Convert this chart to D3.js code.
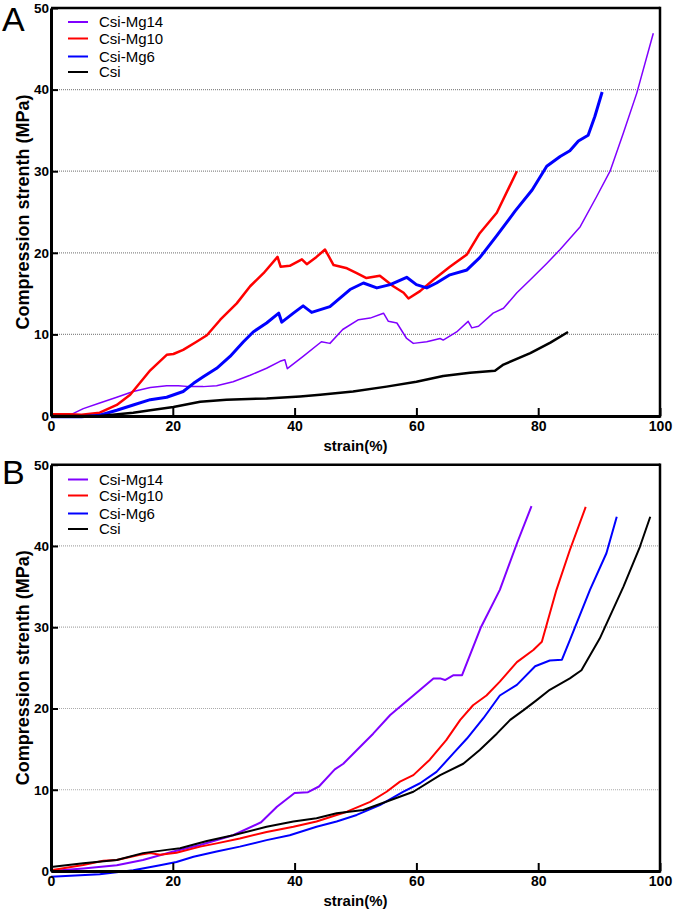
<!DOCTYPE html>
<html><head><meta charset="utf-8">
<script src="https://cdn.jsdelivr.net/npm/d3@7"></script>
<style>body{margin:0;background:#fff}svg{display:block}</style>
</head><body>
<svg id="c" width="675" height="916"></svg>
<script>
const seriesNames = ["Csi-Mg14","Csi-Mg10","Csi-Mg6","Csi"];
const seriesColors = ["#8000ff","#ff0000","#0000ff","#000000"];
const xTicks = [0,20,40,60,80,100];
const yTicks = [0,10,20,30,40,50];
const gridTicks = [10,20,30,40];

// Panel A
const aMg14 = [[0,0],[3.1,0.1],[5.3,0.9],[8,1.6],[10.8,2.3],[13.5,3.0],[16.3,3.5],[19,3.7],[20.9,3.7],[22.8,3.6],[25,3.6],[27.2,3.7],[29.9,4.2],[32.7,5.0],[35.4,5.85],[37.6,6.7],[38.4,6.9],[38.8,5.8],[41.4,7.3],[44.4,9.1],[45.8,8.9],[47.9,10.6],[50.5,11.8],[52.4,12.0],[54.6,12.6],[55.4,11.6],[56.8,11.4],[58.4,9.5],[59.5,8.9],[61.7,9.1],[63.9,9.5],[64.4,9.3],[66.6,10.3],[68.5,11.6],[69.1,10.8],[70.2,11.0],[72.6,12.6],[74.3,13.2],[76.5,15.1],[78.7,16.7],[81.4,18.7],[83.6,20.4],[86.9,23.2],[89.6,26.9],[91.8,30.0],[94,34.7],[96.2,39.6],[98.9,46.9]];
const aMg10 = [[0,0.2],[3,0.2],[5,0.15],[8,0.4],[10.8,1.35],[13,2.6],[16.3,5.6],[19,7.5],[20.1,7.6],[21.7,8.1],[23.9,9.1],[25.6,9.9],[27.8,11.8],[30.5,13.8],[32.7,15.9],[34.9,17.5],[37.2,19.5],[37.7,18.3],[39.2,18.4],[41.2,19.2],[42,18.6],[43.6,19.5],[45,20.4],[46.4,18.5],[48.6,18.1],[50.2,17.5],[51.8,16.9],[54,17.2],[56.2,15.9],[57.9,15.1],[58.7,14.4],[60.6,15.3],[62.8,16.7],[65.5,18.3],[68.3,19.8],[70.4,22.4],[73.2,24.9],[76.5,30.0]];
const aMg6 = [[0,-0.1],[5,-0.1],[8,0.1],[10.8,0.7],[13.5,1.35],[16.3,2.0],[19,2.3],[21.7,3.0],[23.4,4.0],[25,4.8],[27.2,5.85],[29.4,7.3],[31.6,9.1],[33.2,10.3],[35.4,11.4],[37.4,12.6],[37.9,11.5],[39.8,12.6],[41.4,13.5],[42.8,12.7],[45.8,13.4],[49.1,15.5],[51.3,16.3],[53.5,15.7],[55.7,16.1],[58.4,17.0],[60,16.1],[61.7,15.7],[63.3,16.3],[65.5,17.3],[68.3,17.9],[70.4,19.4],[73.2,22.1],[76.2,25.1],[79,27.7],[81.4,30.6],[83.6,31.8],[85.2,32.5],[86.6,33.7],[88.2,34.4],[89.3,36.7],[90.5,39.7]];
const aCsi = [[0,0],[8,0],[13.5,0.4],[16.3,0.7],[20.1,1.1],[24.5,1.75],[28.8,2.0],[35.4,2.15],[40.9,2.4],[44.2,2.6],[49.6,3.0],[55.1,3.6],[60,4.2],[64.4,4.9],[68.8,5.3],[72.9,5.55],[74.3,6.3],[78.7,7.7],[82,9.0],[84.9,10.3]];

// Panel B
const bMg14 = [[0,0],[5.3,0.3],[10.8,0.7],[15.1,1.35],[20.1,2.4],[24.5,3.2],[29.9,4.4],[34.5,6.0],[37.1,7.9],[40,9.6],[42.2,9.7],[44,10.4],[46.6,12.5],[48,13.2],[51.3,15.7],[52.9,16.9],[55.7,19.2],[57.3,20.2],[59.5,21.6],[62.8,23.7],[63.9,23.7],[64.7,23.5],[66.1,24.1],[67.5,24.1],[70.6,30],[73.7,34.6],[76.5,40.3],[78.9,44.9]];
const bMg10 = [[0,0.1],[5.3,0.75],[8.6,1.27],[10.8,1.35],[14.6,2.0],[16.3,2.2],[17.9,2.0],[20.6,2.25],[24.5,3.0],[27.2,3.4],[31,4.0],[35.4,4.8],[39.8,5.45],[43.6,6.1],[46.9,6.9],[48.6,7.3],[52.4,8.5],[55.1,9.75],[57.3,11],[59.5,11.8],[62.2,13.7],[64.9,16.1],[67.2,18.6],[69.3,20.4],[71.5,21.6],[73.7,23.3],[76.5,25.7],[79.2,27.2],[80.6,28.2],[83,34.6],[85.2,39.5],[87.8,44.8]];
const bMg6 = [[0,-0.7],[8,-0.4],[13.5,0.1],[17.9,0.7],[20.6,1.1],[23.4,1.75],[27.2,2.4],[31,3.0],[35.4,3.8],[39.2,4.4],[43.6,5.45],[46.9,6.1],[50.2,6.9],[54,8.1],[57.8,9.75],[60.6,10.8],[63.3,12.2],[66.1,14.5],[68.3,16.3],[71,18.8],[73.7,21.6],[76.5,22.9],[79.5,25.2],[81.9,25.9],[83.9,26.0],[85.2,28.4],[88.5,34.6],[91.2,39.1],[92.9,43.6]];
const bCsi = [[0,0.5],[5.3,0.95],[10.8,1.35],[15.1,2.2],[19,2.6],[21.2,2.8],[25.6,3.7],[29.9,4.4],[35.4,5.45],[39.8,6.1],[43.6,6.5],[46.9,7.1],[51.3,7.5],[55.7,8.7],[59.5,9.75],[63.9,11.8],[67.7,13.2],[70.4,14.9],[73.2,16.9],[75.4,18.6],[77.6,19.8],[79.7,21],[81.9,22.3],[85.2,23.7],[87.1,24.7],[90.1,28.6],[94,35],[96.7,39.9],[98.4,43.6]];

const svg = d3.select("#c");
const FONT = "'Liberation Sans', Arial, sans-serif";

function panel(cfg){
  const x = d3.scaleLinear().domain([0,100]).range([51,660]);
  const y = d3.scaleLinear().domain([0,50]).range([cfg.y0, cfg.y50]);
  const g = svg.append("g");

  // grid
  g.selectAll(".grid").data(gridTicks).enter().append("line")
    .attr("x1", x(0)).attr("x2", x(100))
    .attr("y1", d=>y(d)).attr("y2", d=>y(d))
    .attr("stroke", cfg.gridColor).attr("stroke-width", 1.2)
    .attr("stroke-dasharray", "1,1");

  // series
  const line = d3.line().x(d=>x(d[0])).y(d=>y(d[1]));
  cfg.series.forEach((s,i)=>{
    g.append("path").datum(s).attr("d", line)
      .attr("fill","none").attr("stroke", seriesColors[i])
      .attr("stroke-width", cfg.widths[i]).attr("stroke-linejoin","round");
  });

  // frame (top, right)
  g.append("line").attr("x1",x(0)).attr("x2",x(100)).attr("y1",y(50)).attr("y2",y(50))
    .attr("stroke","#000").attr("stroke-width",2.5);
  g.append("line").attr("x1",x(100)).attr("x2",x(100)).attr("y1",y(50)-1.2).attr("y2",y(0)+1.5)
    .attr("stroke","#000").attr("stroke-width",2.5);

  // axes
  const xa = d3.axisBottom(x).tickValues(xTicks).tickSizeInner(-8).tickSizeOuter(0).tickPadding(5).tickFormat(d3.format("d"));
  const gx = g.append("g").attr("transform",`translate(0,${y(0)})`).call(xa);
  gx.select(".domain").attr("stroke","#000").attr("stroke-width",3);
  gx.selectAll(".tick line").attr("stroke","#000").attr("stroke-width",2);
  gx.selectAll(".tick text").attr("font-family",FONT).attr("font-weight","bold").attr("font-size",14).attr("fill","#000");

  const ya = d3.axisLeft(y).tickValues(yTicks).tickSizeInner(-7).tickSizeOuter(0).tickPadding(2).tickFormat(d3.format("d"));
  const gy = g.append("g").attr("transform",`translate(${x(0)},0)`).call(ya);
  gy.select(".domain").attr("stroke","#000").attr("stroke-width",3);
  gy.selectAll(".tick line").attr("stroke","#000").attr("stroke-width",2);
  gy.selectAll(".tick text").attr("font-family",FONT).attr("font-weight","bold").attr("font-size",13.5).attr("fill","#000");

  // axis titles
  g.append("text").attr("x",(x(0)+x(100))/2).attr("y",y(0)+35)
    .attr("text-anchor","middle").attr("font-family",FONT).attr("font-weight","bold").attr("font-size",15)
    .text("strain(%)");
  g.append("text").attr("transform",`translate(29,${(y(0)+y(50))/2}) rotate(-90)`)
    .attr("text-anchor","middle").attr("font-family",FONT).attr("font-weight","bold").attr("font-size",18)
    .text("Compression strenth (MPa)");

  // panel letter
  g.append("text").attr("x",2).attr("y",cfg.letterY).attr("font-family",FONT).attr("font-size",34)
    .text(cfg.letter);

  // legend
  const lg = g.append("g");
  seriesNames.forEach((n,i)=>{
    const yy = cfg.legendY[i];
    lg.append("line").attr("x1",68).attr("x2",88).attr("y1",yy).attr("y2",yy)
      .attr("stroke",seriesColors[i]).attr("stroke-width",2);
    lg.append("text").attr("x",99).attr("y",yy).attr("dy","0.36em")
      .attr("font-family",FONT).attr("font-size",15).text(n);
  });
}

panel({letter:"A", letterY:31, y0:416, y50:8, gridColor:"#8a8a8a",
  series:[aMg14,aMg10,aMg6,aCsi], widths:[1.5,2.5,3,2.5], legendY:[22,38.5,56.5,72]});
panel({letter:"B", letterY:484, y0:871, y50:464.7, gridColor:"#aaaaaa",
  series:[bMg14,bMg10,bMg6,bCsi], widths:[2,2,2,2], legendY:[479.5,495.5,513.5,529]});
</script>
</body></html>
